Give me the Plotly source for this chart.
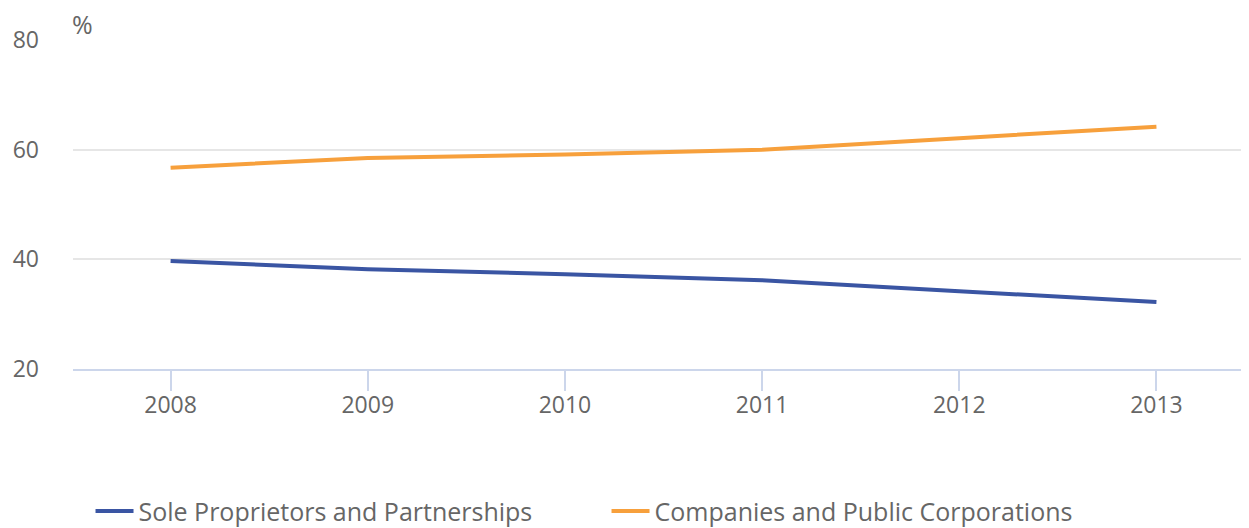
import plotly.graph_objects as go

years = [2008, 2009, 2010, 2011, 2012, 2013]
sole_props = [39.7, 38.2, 37.3, 36.2, 34.2, 32.2]
companies = [56.7, 58.5, 59.1, 60.0, 62.1, 64.2]
y_ticks = [20, 40, 60, 80]

fig = go.Figure()
fig.add_trace(go.Scatter(x=years, y=sole_props, mode="lines",
                         name="Sole Proprietors and Partnerships",
                         line=dict(color="#3a55a3", width=4)))
fig.add_trace(go.Scatter(x=years, y=companies, mode="lines",
                         name="Companies and Public Corporations",
                         line=dict(color="#f7a03c", width=4)))

fig.update_layout(
    width=1249, height=528,
    margin=dict(l=65, r=0, t=32, b=167, autoexpand=False),
    plot_bgcolor="white", paper_bgcolor="white",
    font=dict(family="Open Sans", color="#666666", size=23),
    showlegend=True,
    legend=dict(orientation="h", x=0.0148, xanchor="left",
                y=-0.432, yanchor="middle",
                font=dict(size=25, color="#666666"),
                itemwidth=38, entrywidth=463, entrywidthmode="pixels"),
    xaxis=dict(range=[2007.505, 2013.51], tickmode="array", tickvals=years,
               ticktext=[str(y) for y in years],
               showgrid=False, showline=True, linecolor="#ccd6eb", linewidth=2,
               ticks="outside", ticklen=20, tickcolor="#ccd6eb", tickwidth=2,
               ticklabelstandoff=-6,
               tickfont=dict(size=23, color="#666666"), zeroline=False),
    yaxis=dict(range=[20, 80], tickvals=y_ticks, showgrid=True,
               gridcolor="#e6e6e6", gridwidth=2, zeroline=False,
               ticks="", ticklabelstandoff=33,
               tickfont=dict(size=23, color="#666666")),
    annotations=[dict(text="%", xref="paper", yref="paper", x=0, y=1,
                      xanchor="left", yanchor="bottom", showarrow=False,
                      yshift=-3, xshift=-3,
                      font=dict(size=25, color="#666666"))],
)

fig.write_html("out.html")
